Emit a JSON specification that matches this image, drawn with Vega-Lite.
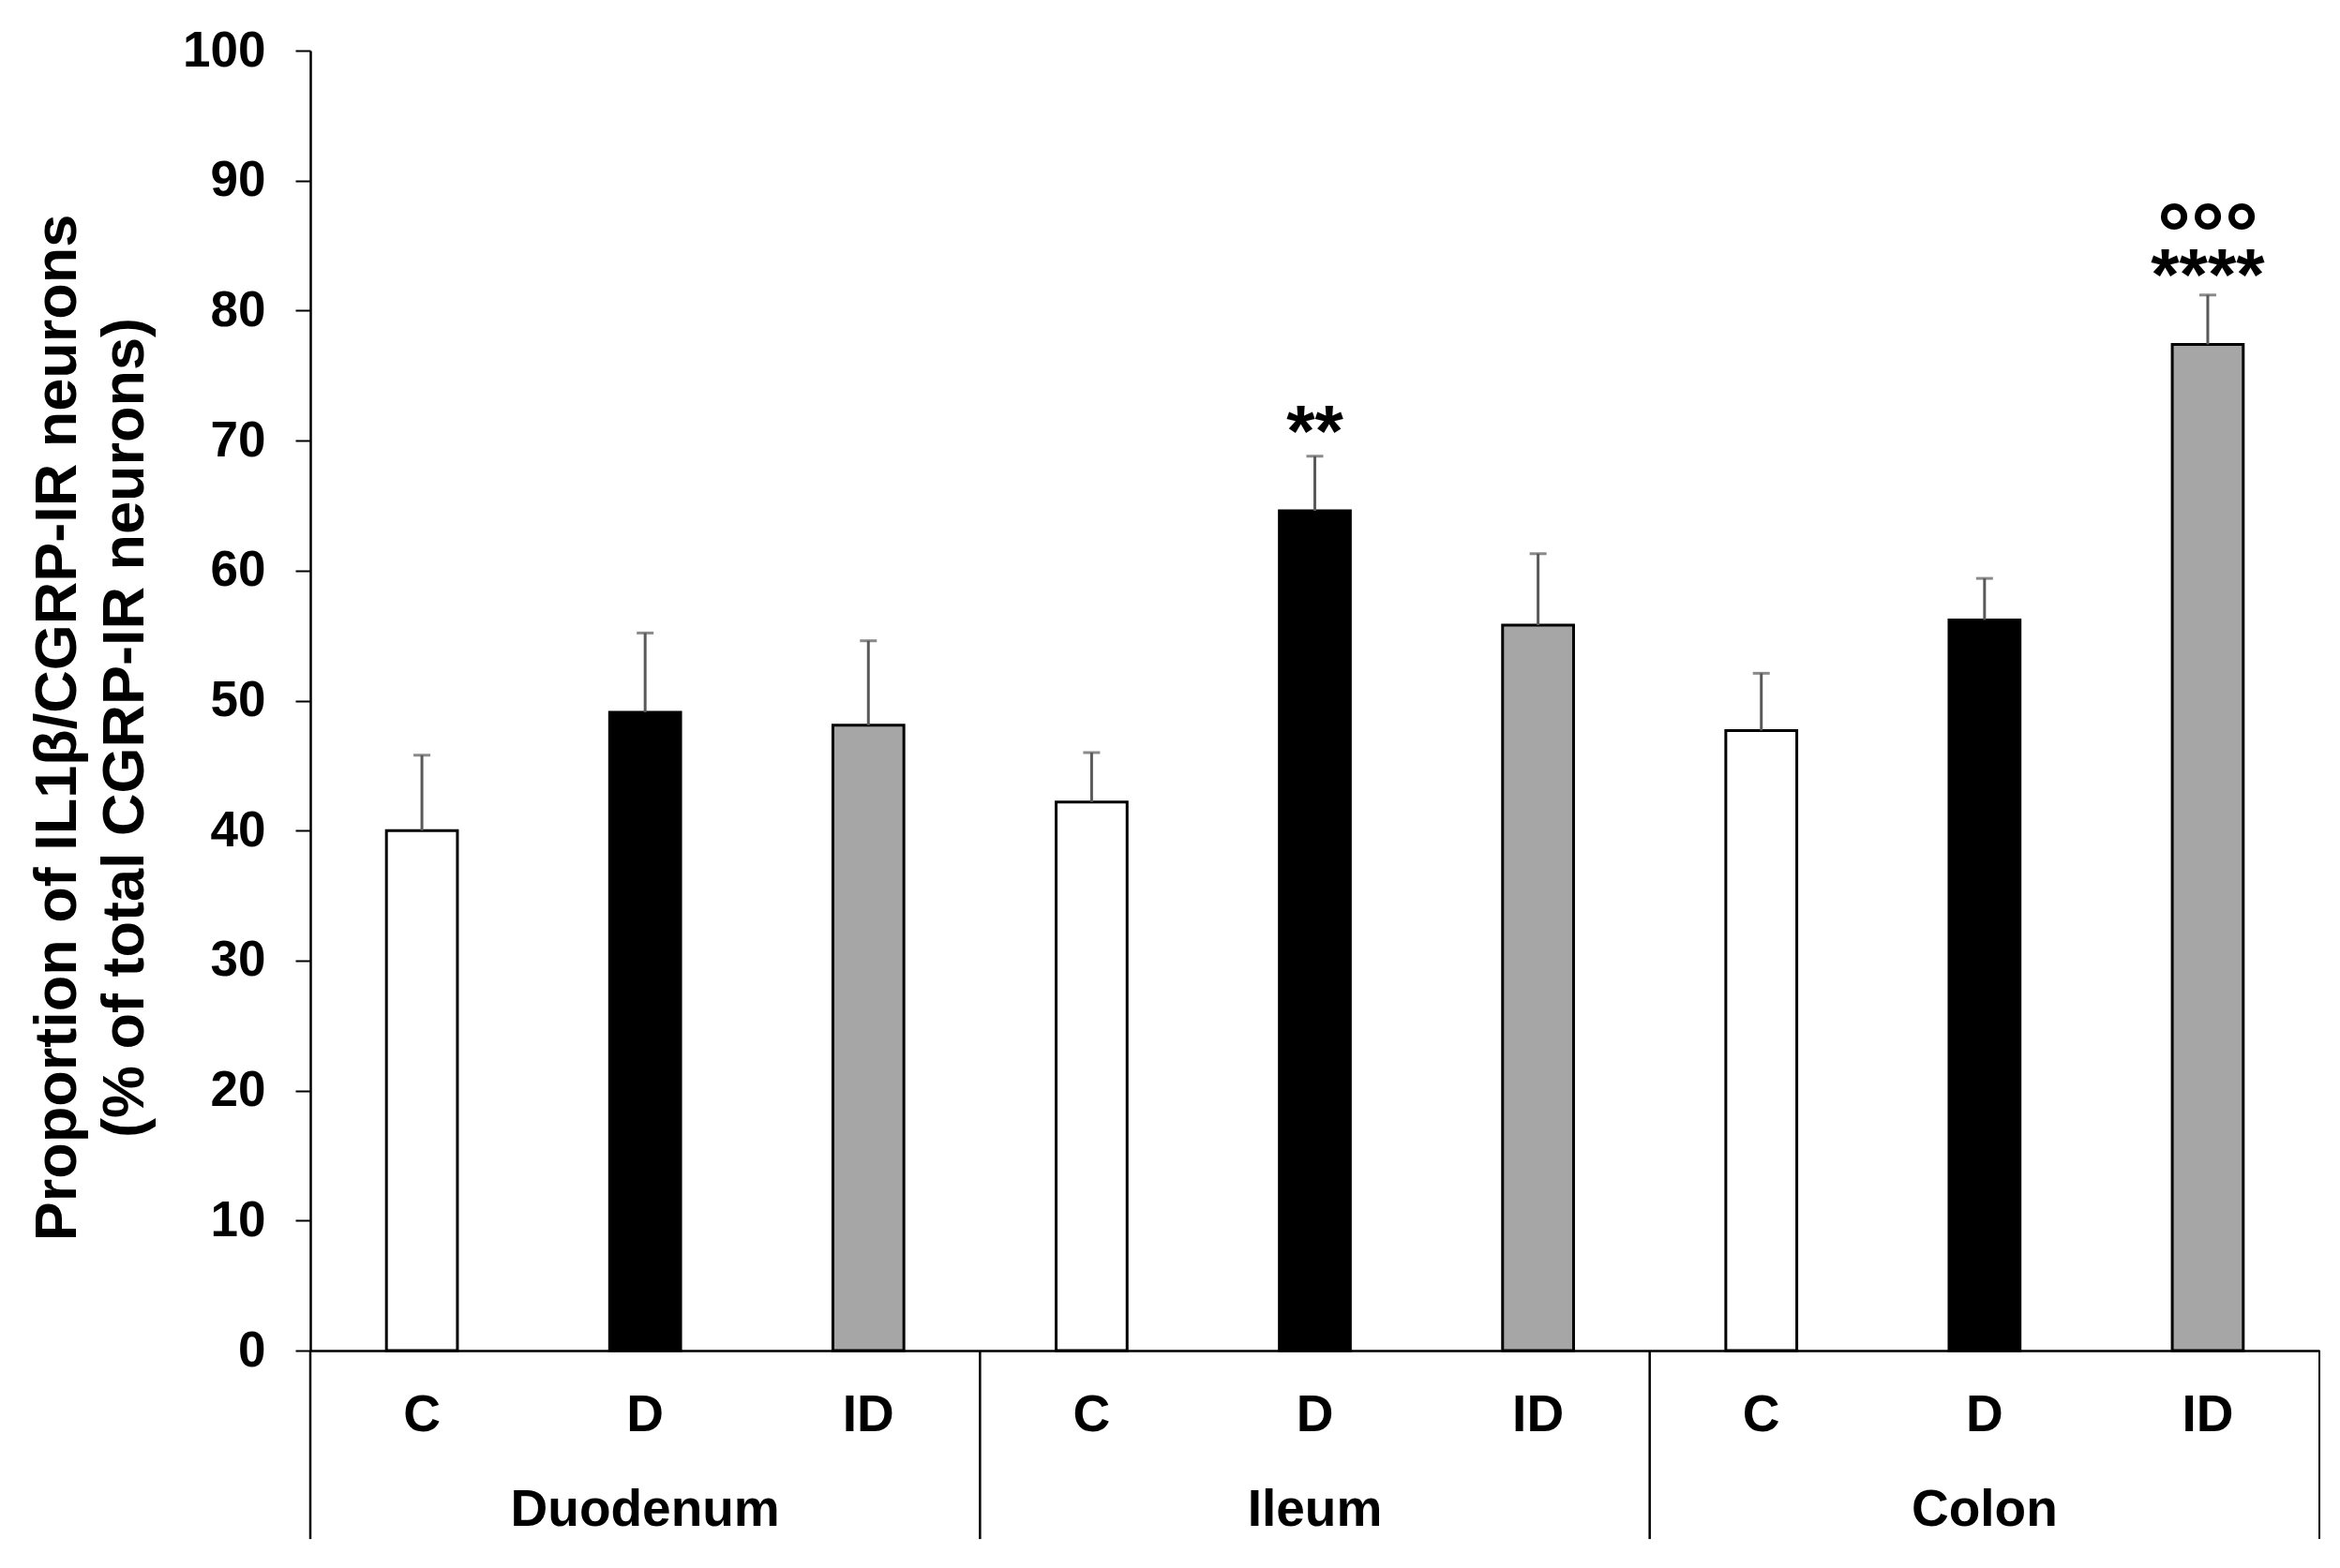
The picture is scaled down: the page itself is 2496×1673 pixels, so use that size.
{
  "$schema": "https://vega.github.io/schema/vega-lite/v6.json",
  "width": 2143,
  "height": 1387,
  "autosize": {"type": "none"},
  "padding": {"left": 331, "top": 54, "right": 22, "bottom": 232},
  "background": "white",
  "config": {
    "view": {"stroke": null},
    "font": "Liberation Sans",
    "axis": {"labelColor": "black", "titleColor": "black", "grid": false}
  },
  "datasets": {
    "bars": [
      {"region": "Duodenum", "group": "C", "pos": "Duodenum|C", "mean": 40.0, "upper": 45.8},
      {"region": "Duodenum", "group": "D", "pos": "Duodenum|D", "mean": 49.1, "upper": 55.2},
      {"region": "Duodenum", "group": "ID", "pos": "Duodenum|ID", "mean": 48.1, "upper": 54.6},
      {"region": "Ileum", "group": "C", "pos": "Ileum|C", "mean": 42.2, "upper": 46.0},
      {"region": "Ileum", "group": "D", "pos": "Ileum|D", "mean": 64.6, "upper": 68.8},
      {"region": "Ileum", "group": "ID", "pos": "Ileum|ID", "mean": 55.8, "upper": 61.3},
      {"region": "Colon", "group": "C", "pos": "Colon|C", "mean": 47.7, "upper": 52.1},
      {"region": "Colon", "group": "D", "pos": "Colon|D", "mean": 56.2, "upper": 59.4},
      {"region": "Colon", "group": "ID", "pos": "Colon|ID", "mean": 77.4, "upper": 81.2}
    ],
    "stars": [
      {"pos": "Ileum|D", "y": 68.8, "label": "**"},
      {"pos": "Colon|ID", "y": 80.8, "label": "****"}
    ],
    "circles": [
      {"pos": "Colon|ID", "y": 83.7, "label": "°°°"}
    ]
  },
  "encoding": {
    "x": {
      "field": "pos",
      "type": "nominal",
      "sort": null,
      "scale": {
        "domain": ["Duodenum|C", "Duodenum|D", "Duodenum|ID", "Ileum|C", "Ileum|D", "Ileum|ID", "Colon|C", "Colon|D", "Colon|ID"],
        "paddingInner": 0,
        "paddingOuter": 0
      },
      "axis": {
        "title": null,
        "labelAngle": 0,
        "labelFontSize": 55,
        "labelFontWeight": "bold",
        "labelPadding": 42,
        "labelLineHeight": 101,
        "labelLimit": 800,
        "ticks": false,
        "tickSize": 0,
        "domainColor": "black",
        "domainWidth": 2.5,
        "labelExpr": "split(datum.value, '|')[1] == 'D' ? [split(datum.value, '|')[1], split(datum.value, '|')[0]] : split(datum.value, '|')[1]"
      }
    }
  },
  "layer": [
    {
      "data": {"name": "bars"},
      "mark": {"type": "bar", "width": {"band": 0.318}, "stroke": "black", "strokeWidth": 3},
      "encoding": {
        "y": {
          "field": "mean",
          "type": "quantitative",
          "scale": {"domain": [0, 100], "nice": false, "zero": true},
          "axis": {
            "values": [0, 10, 20, 30, 40, 50, 60, 70, 80, 90, 100],
            "labelFontSize": 53,
            "labelFontWeight": "bold",
            "labelPadding": 32,
            "tickSize": 16,
            "tickWidth": 2,
            "tickColor": "black",
            "domainColor": "black",
            "domainWidth": 2.5,
            "title": ["Proportion of IL1β/CGRP-IR neurons", "(% of total CGRP-IR neurons)"],
            "titleFontSize": 63,
            "titleFontWeight": "bold",
            "titleLineHeight": 72,
            "titleAngle": -90,
            "titleBaseline": "alphabetic",
            "titleAlign": "center",
            "titleX": -251,
            "titleY": 722
          }
        },
        "fill": {
          "field": "group",
          "type": "nominal",
          "scale": {"domain": ["C", "D", "ID"], "range": ["#ffffff", "#000000", "#a6a6a6"]},
          "legend": null
        }
      }
    },
    {
      "data": {"name": "bars"},
      "mark": {"type": "rule", "color": "#595959", "strokeWidth": 3},
      "encoding": {
        "y": {"field": "mean", "type": "quantitative"},
        "y2": {"field": "upper"}
      }
    },
    {
      "data": {"name": "bars"},
      "mark": {"type": "tick", "orient": "horizontal", "color": "#595959", "size": 18, "thickness": 3},
      "encoding": {
        "y": {"field": "upper", "type": "quantitative"}
      }
    },
    {
      "data": {"name": "bars"},
      "transform": [{"filter": "datum.group == 'C'"}],
      "mark": {"type": "rule", "color": "black", "strokeWidth": 2.5, "clip": false},
      "encoding": {
        "x": {"field": "pos", "type": "nominal", "sort": null, "bandPosition": 0},
        "y": {"datum": 0},
        "y2": {"datum": -14.5}
      }
    },
    {
      "data": {"name": "bars"},
      "transform": [{"filter": "datum.pos == 'Colon|ID'"}],
      "mark": {"type": "rule", "color": "black", "strokeWidth": 2, "clip": false},
      "encoding": {
        "x": {"field": "pos", "type": "nominal", "sort": null, "bandPosition": 1},
        "y": {"datum": 0},
        "y2": {"datum": -14.5}
      }
    },
    {
      "data": {"name": "stars"},
      "mark": {"type": "text", "fontSize": 78, "fontWeight": "bold", "color": "black", "baseline": "alphabetic", "align": "center"},
      "encoding": {
        "y": {"field": "y", "type": "quantitative"},
        "text": {"field": "label"}
      }
    },
    {
      "data": {"name": "circles"},
      "mark": {"type": "text", "fontSize": 90, "fontWeight": "bold", "color": "black", "baseline": "alphabetic", "align": "center"},
      "encoding": {
        "y": {"field": "y", "type": "quantitative"},
        "text": {"field": "label"}
      }
    }
  ]
}
